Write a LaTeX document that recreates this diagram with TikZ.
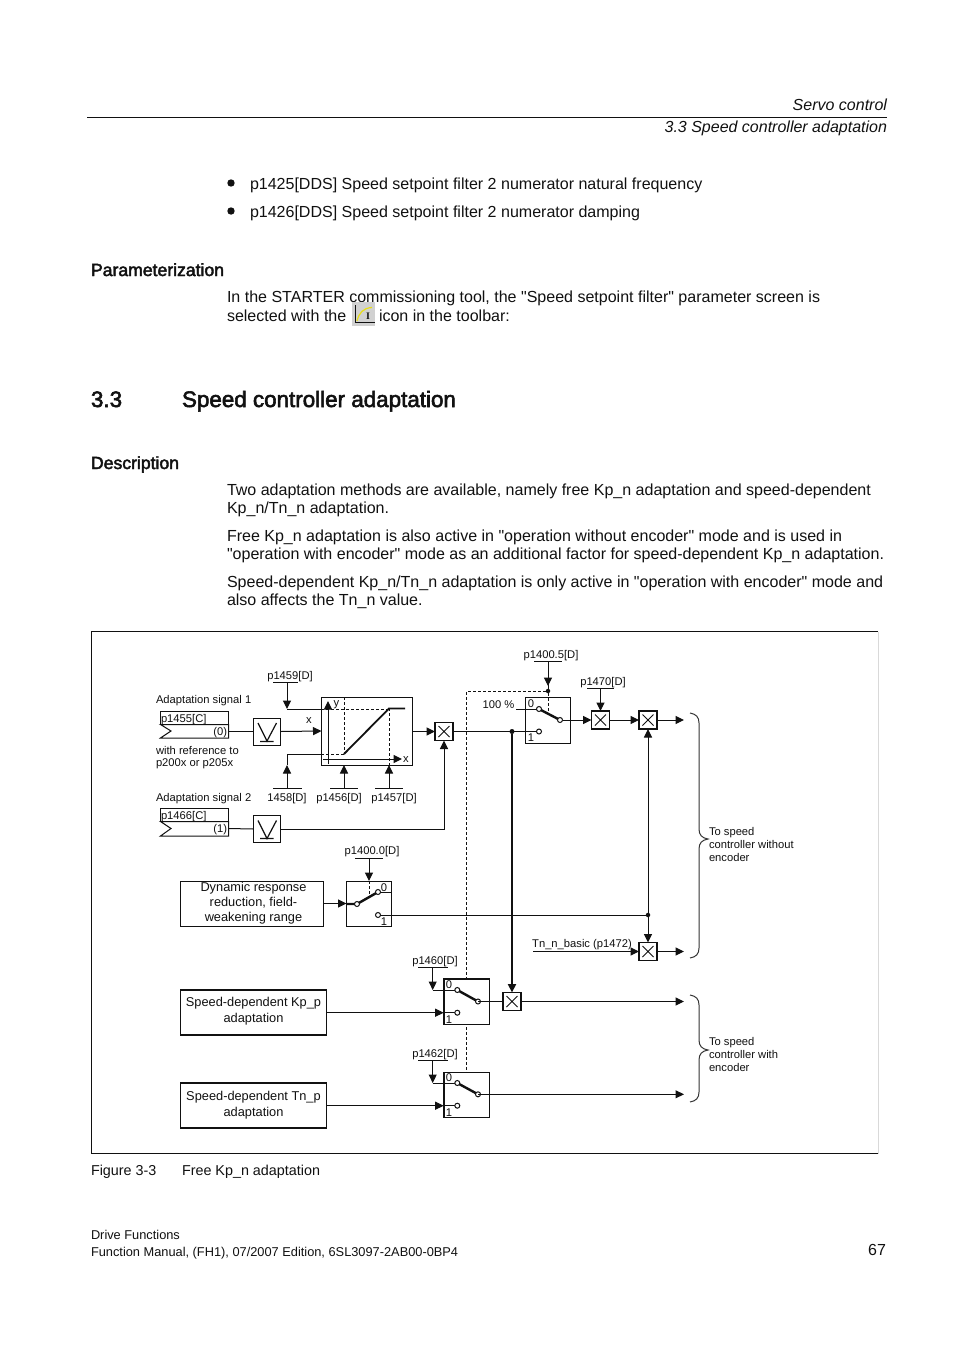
\documentclass[tikz,border=0pt]{standalone}
\usepackage{fontspec}
\setmainfont{Liberation Sans}[Ligatures=TeXOff]
\newfontfamily\hf[FakeBold=2.5]{Liberation Sans}
\newfontfamily\iconf{Liberation Serif}
\usetikzlibrary{arrows.meta}
\definecolor{ink}{HTML}{111111}
\definecolor{gline}{HTML}{333333}
\tikzset{
 x=1pt,y=-1pt,
 every node/.style={inner sep=0pt,outer sep=0pt,text=ink},
 body/.style={anchor=base west,font=\fontsize{16.02}{16}\selectfont},
 head/.style={anchor=base west,font=\fontsize{17.6}{18}\selectfont\hf},
 hsec/.style={anchor=base west,font=\fontsize{22.4}{24}\selectfont\hf},
 small/.style={font=\fontsize{11.2}{13}\selectfont,text height=8pt,text depth=2.5pt,yshift=-1.8pt},
 smallw/.style={anchor=west,small},
 boxt/.style={font=\fontsize{12.8}{13}\selectfont,text height=9pt,text depth=3pt,yshift=-1.6pt},
 boxed/.style={draw=ink,line width=1pt,fill=white},
 wire/.style={draw=ink,line width=1pt},
 fat/.style={draw=ink,line width=2.4pt},
 tip/.style={-{Triangle[length=8.5pt,width=8pt]}},
 dashln/.style={draw=ink,line width=1pt,dash pattern=on 3pt off 2pt},
 contact/.style={circle,draw=ink,line width=1pt,fill=white,minimum size=5pt},
 jdot/.style={circle,fill=ink,minimum size=5pt},
 brace/.style={draw=gline,line width=1pt},
}
\begin{document}
\begin{tikzpicture}
\useasboundingbox (0,0) rectangle (954,1350);
\fill[white] (0,0) rectangle (954,1350);
% page header
\node[anchor=base east,font=\fontsize{16}{16}\selectfont\itshape] (h1) at (887,110) {Servo control};
\node[anchor=base east,font=\fontsize{16}{16}\selectfont\itshape] (h2) at (887,132) {3.3 Speed controller adaptation};
\draw[line width=1pt,ink] (87,117.5) -- (887,117.5);
% page text
\fill[ink] (231,183) circle (3.7pt);
\fill[ink] (231,211) circle (3.7pt);
\node[body] (t1) at (250,189) {p1425[DDS] Speed setpoint filter 2 numerator natural frequency};
\node[body] (t2) at (250,217) {p1426[DDS] Speed setpoint filter 2 numerator damping};
\node[head] (s1) at (91,276) {Parameterization};
\node[body] (t3) at (227,302) {In the STARTER commissioning tool, the "Speed setpoint filter" parameter screen is};
\node[body] (t4) at (227,321) {selected with the};
\node[body] (t5) at (379,321) {icon in the toolbar:};
% toolbar icon
\fill[black!18] (352,302) rectangle (375,326);
\draw[ink,line width=1pt] (355.5,305) -- (355.5,322.5) -- (375,322.5);
\draw[yellow!90!black,line width=1.2pt] (357,321) .. controls (359,313) and (363,308) .. (372,307.5);
\node[font=\fontsize{10}{10}\selectfont\iconf\bfseries] (ic) at (368,316.5) {I};
\node[hsec] (s2) at (91,407) {3.3};
\node[hsec] (s3) at (182,407) {Speed controller adaptation};
\node[head] (s4) at (91,469) {Description};
\node[body] (p1) at (227,495) {Two adaptation methods are available, namely free Kp\_n adaptation and speed-dependent};
\node[body] (p2) at (227,513) {Kp\_n/Tn\_n adaptation.};
\node[body] (p3) at (227,541) {Free Kp\_n adaptation is also active in "operation without encoder" mode and is used in};
\node[body] (p4) at (227,559) {"operation with encoder" mode as an additional factor for speed-dependent Kp\_n adaptation.};
\node[body] (p5) at (227,587) {Speed-dependent Kp\_n/Tn\_n adaptation is only active in "operation with encoder" mode and};
\node[body] (p6) at (227,605) {also affects the Tn\_n value.};
% frame
\draw[black!15,line width=1pt] (878.5,631.5) -- (878.5,1153.5);
\draw[ink,line width=1pt] (878,631.5) -- (91.5,631.5) -- (91.5,1153.5) -- (878,1153.5);
% labels
\node[smallw] (as1) at (156,699) {Adaptation signal 1};
\node[smallw] (as2) at (156,797) {Adaptation signal 2};
\node[smallw] (wr1) at (156,750) {with reference to};
\node[smallw] (wr2) at (156,762) {p200x or p205x};
% connector blocks
\draw[boxed] (160.5,711.5) rectangle (228.5,724.5);
\draw[boxed] (160.5,724.5) -- (228.5,724.5) -- (228.5,738) -- (160.5,738) -- (171,731) -- cycle;
\node[smallw] (p1455) at (161,717.5) {p1455[C]};
\node[small,anchor=east] (z0) at (227,731) {(0)};
\draw[boxed] (160.5,808.5) rectangle (228.5,821.5);
\draw[boxed] (160.5,821.5) -- (228.5,821.5) -- (228.5,836) -- (160.5,836) -- (171,828.5) -- cycle;
\node[smallw] (p1466) at (161,814.5) {p1466[C]};
\node[small,anchor=east] (z1) at (227,828) {(1)};
\coordinate (c1455) at (228.5,731.5);
\coordinate (c1466) at (228.5,828.5);
% V blocks
\node[boxed,minimum width=27pt,minimum height=27pt] (v1) at (267,731.5) {};
\draw[wire,line width=1.2pt] (258,723) -- (267,741) -- (276.5,723) (260,741.5) -- (273.5,741.5);
\node[boxed,minimum width=27pt,minimum height=27pt,line width=1.3pt] (v2) at (267,829) {};
\draw[wire,line width=1.2pt] (258,820.5) -- (267,838.5) -- (276.5,820.5) (260,838.5) -- (273.5,838.5);
% characteristic
\node[boxed,minimum width=91pt,minimum height=68pt] (cb) at (367,731) {};
\draw[wire,tip] (328,764) -- (328,701);
\draw[wire,tip] (323,759) -- (402,759);
\node[small] (ly) at (336.5,702) {y};
\node[small] (lx) at (406,758) {x};
\draw[dashln] (344,697) -- (344,754);
\draw[dashln] (389,708) -- (389,765);
\draw[dashln] (321,709) -- (389,709);
\draw[dashln] (321,754) -- (344,754);
\draw[draw=ink,line width=1.8pt] (344,754) -- (389,708.5) -- (405,708.5);
\node[small] (lxx) at (309,719) {x};
% inputs with bars
\node[small] (n1459) at (290,675) {p1459[D]};
\coordinate (b1459) at (287,682.5);
\draw[wire] (273,682.5) -- (298,682.5);
\draw[wire,tip] (b1459) -- (287,709);
\draw[wire] (287,709) -- (cb.west |- 0,709);
\node[small] (n1458) at (287,797) {1458[D]};
\draw[wire] (273,788.5) -- (302,788.5);
\draw[wire,tip] (287,788.5) -- (287,765);
\draw[wire] (287,765) -- (287,754) -- (321,754);
\node[small] (n1456) at (339,797) {p1456[D]};
\draw[wire] (330,788.5) -- (358,788.5);
\draw[wire,tip] (344,788.5) -- (344,765);
\node[small] (n1457) at (394,797) {p1457[D]};
\draw[wire] (375,788.5) -- (403,788.5);
\draw[wire,tip] (389,788.5) -- (389,765);
% multipliers
\tikzset{mult/.style={boxed,minimum width=18pt,minimum height=18pt,line width=1.2pt,path picture={\draw[ink,line width=.9pt] ([shift={(3.5,3.5)}]path picture bounding box.north west) -- ([shift={(-3.5,-3.5)}]path picture bounding box.south east) ([shift={(3.5,-3.5)}]path picture bounding box.south west) -- ([shift={(-3.5,3.5)}]path picture bounding box.north east);}}}
\node[mult] (m1) at (444,731.5) {};
\node[mult] (m2) at (600.5,720) {};
\node[mult] (m3) at (648,720) {};
\node[mult] (m4) at (648,951.5) {};
\node[mult] (m5) at (512,1001.5) {};
% wires
\draw[wire] (c1455) -- (v1.west);
\draw[wire] (c1466) -- (v2.west);
\draw[wire,tip] (v1.east) -- (cb.west);
\draw[wire,tip] (cb.east |- 0,731.5) -- (m1.west);
\draw[wire,tip] (v2.east) -- (444,829) -- (m1.south);
% switch 1
\node[boxed,minimum width=45pt,minimum height=46pt] (sw1) at (548,720) {};
\node[small] (s10) at (531,702.5) {0};
\node[small] (s11) at (531,736.5) {1};
\node[small] (pct) at (498.5,703.5) {100 \%};
\coordinate (c10) at (539,709);
\coordinate (c11) at (539,731.5);
\coordinate (c1o) at (560,720);
\node[jdot] (jd) at (512,731.5) {};
\draw[wire] (516,709) -- (c10);
\draw[wire] (m1.east) -- (c11);
\draw[fat] (c10) -- (c1o);
\node[contact] at (c10) {};
\node[contact] at (c11) {};
\node[contact] (c1ob) at (c1o) {};
\draw[wire,tip] (c1ob) -- (m2.west);
\draw[wire,tip] (m2.east) -- (m3.west);
\coordinate (o1) at (684,720);
\draw[wire,tip] (m3.east) -- (o1);
% p1400.5
\node[small] (n14005) at (551,653.5) {p1400.5[D]};
\draw[wire] (534,661) -- (562,661);
\node[jdot,minimum size=4.5pt] (jd2) at (548,691) {};
\draw[wire,tip] (548,661) -- (548,686);
\draw[wire] (548,684) -- (jd2);
\draw[dashln] (jd2) -- (466.5,691) -- (466.5,1087);
\draw[dashln] (jd2) -- (548,714);
% p1470
\node[small] (n1470) at (603,681) {p1470[D]};
\draw[wire] (587,688.5) -- (614,688.5);
\draw[wire,tip] (600.5,688.5) -- (m2.north);
% thick to m5
\draw[fat,tip] (jd) -- (m5.north);
% p1400.0 switch
\node[boxed,minimum width=45pt,minimum height=45pt] (sw2) at (369,903.5) {};
\node[boxed,minimum width=143pt,minimum height=45pt] (dyn) at (252,903.5) {};
\node[boxt] (dynt) at (253.5,886.5) {Dynamic response};
\node[boxt] (dynt2) at (253.5,901.5) {reduction, field-};
\node[boxt] (dynt3) at (253.5,917) {weakening range};
\node[small] (n14000) at (372,850) {p1400.0[D]};
\draw[wire] (355,858.5) -- (383,858.5);
\draw[wire,tip] (369,858.5) -- (369,881);
\draw[dashln] (369,881) -- (369,896);
\draw[wire,tip] (dyn.east) -- (sw2.west);
\coordinate (c20) at (378,892);
\coordinate (c21) at (378,915);
\coordinate (c2i) at (357,904);
\draw[wire] (c20) -- (391.5,892);
\draw[fat] (346,904) -- (c2i) -- (c20);
\node[contact] at (c20) {};
\node[contact] at (c2i) {};
\node[small] (s20) at (384,886.5) {0};
\node[small] (s21) at (384,921) {1};
\node[jdot,minimum size=4.5pt] (jd3) at (648,915) {};
\draw[wire] (c21) -- (jd3);
\node[contact] at (c21) {};
\draw[wire,tip] (jd3) -- (m3.south);
\draw[wire,tip] (jd3) -- (m4.north);
% Tn_n_basic
\node[small] (tnb) at (582,942.5) {Tn\_n\_basic (p1472)};
\coordinate (tni) at (533,951.5);
\draw[wire,tip] (tni) -- (m4.west);
\coordinate (o2) at (684,951.5);
\draw[wire,tip] (m4.east) -- (o2);
% Kp / Tn
\node[boxed,minimum width=146pt,minimum height=45pt,line width=1.3pt] (kp) at (253.3,1012.5) {};
\node[boxt] (kp1) at (253.5,1001.5) {Speed-dependent Kp\_p};
\node[boxt] (kp2) at (253.5,1017.5) {adaptation};
\node[boxed,minimum width=146pt,minimum height=45pt,line width=1.3pt] (tn) at (253.3,1105.5) {};
\node[boxt] (tn1) at (253.5,1096) {Speed-dependent Tn\_p};
\node[boxt] (tn2) at (253.5,1111.5) {adaptation};
% switch 3
\node[boxed,minimum width=45.5pt,minimum height=45.5pt] (sw3) at (466.5,1001.3) {};
\draw[ink,line width=2pt] (443.7,1024) -- (443.7,978.7) -- (489.3,978.7);
\node[small] (s30) at (449,983.5) {0};
\node[small] (s31) at (449,1018.5) {1};
\coordinate (c30) at (457.3,990);
\coordinate (c31) at (457.3,1012.7);
\coordinate (c3o) at (478,1001.5);
\node[small] (n1460) at (435,960) {p1460[D]};
\draw[wire] (418,967.5) -- (448,967.5);
\draw[wire,tip] (432.7,967.5) -- (432.7,990);
\draw[wire] (432.7,990) -- (c30);
\draw[wire,tip] (kp.east |- c31) -- (443.7,1012.7);
\draw[wire] (443,1012.7) -- (c31);
\draw[fat] (c30) -- (c3o);
\node[contact] at (c30) {};
\node[contact] at (c31) {};
\node[contact] at (c3o) {};
\draw[wire] (c3o) -- (m5.west);
\coordinate (o3) at (684,1001.5);
\draw[wire,tip] (m5.east) -- (o3);
% switch 4
\node[boxed,minimum width=45.5pt,minimum height=45pt] (sw4) at (466.5,1094.7) {};
\draw[ink,line width=2pt] (443.7,1117) -- (443.7,1072.3);
\node[small] (s40) at (449,1077) {0};
\node[small] (s41) at (449,1111.5) {1};
\coordinate (c40) at (457.3,1083);
\coordinate (c41) at (457.3,1105.7);
\coordinate (c4o) at (478,1094.3);
\node[small] (n1462) at (435,1052.5) {p1462[D]};
\draw[wire] (418,1060) -- (448,1060);
\draw[wire,tip] (432.7,1060) -- (432.7,1083);
\draw[wire] (432.7,1083) -- (c40);
\draw[wire,tip] (tn.east |- c41) -- (443.7,1105.7);
\draw[wire] (443,1105.7) -- (c41);
\draw[fat] (c40) -- (c4o);
\node[contact] at (c40) {};
\node[contact] at (c41) {};
\node[contact] at (c4o) {};
\coordinate (o4) at (684,1094.3);
\draw[wire,tip] (c4o) -- (o4);
% braces
\draw[brace] (690,713) .. controls (696,714) and (699,717) .. (699,723) -- (699,829) .. controls (699,835) and (702,838) .. (708,839) .. controls (702,840) and (699,843) .. (699,849) -- (699,948) .. controls (699,954) and (696,957) .. (690,958);
\draw[brace] (690,995) .. controls (696,996) and (699,999) .. (699,1005) -- (699,1040) .. controls (699,1046) and (702,1049) .. (708,1050) .. controls (702,1051) and (699,1054) .. (699,1060) -- (699,1092) .. controls (699,1098) and (696,1101) .. (690,1102);
\node[smallw] (b11) at (709,830.5) {To speed};
\node[smallw] (b12) at (709,844) {controller without};
\node[smallw] (b13) at (709,857) {encoder};
\node[smallw] (b21) at (709,1041) {To speed};
\node[smallw] (b22) at (709,1054) {controller with};
\node[smallw] (b23) at (709,1067) {encoder};
% caption and footer
\node[anchor=base west,font=\fontsize{14.35}{14}\selectfont] (cap1) at (91,1175) {Figure 3-3};
\node[anchor=base west,font=\fontsize{14.35}{14}\selectfont] (cap2) at (182,1175) {Free Kp\_n adaptation};
\node[anchor=base west,font=\fontsize{12.8}{13}\selectfont] (f1) at (91,1239) {Drive Functions};
\node[anchor=base west,font=\fontsize{12.8}{13}\selectfont] (f2) at (91,1256) {Function Manual, (FH1), 07/2007 Edition, 6SL3097-2AB00-0BP4};
\node[anchor=base east,font=\fontsize{16}{16}\selectfont] (pg) at (886,1255) {67};
\end{tikzpicture}
\end{document}
